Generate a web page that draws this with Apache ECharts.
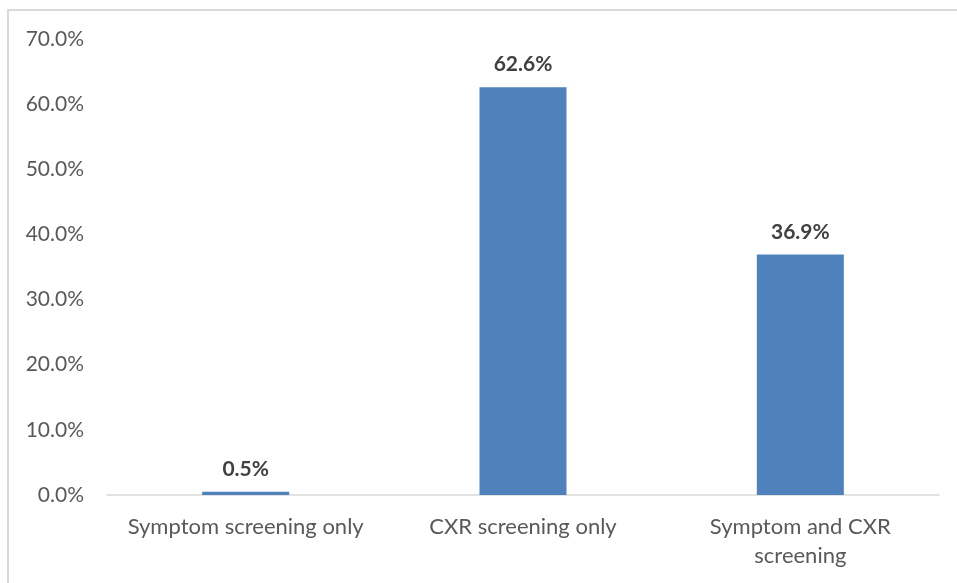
<!DOCTYPE html>
<html>
<head>
<meta charset="utf-8">
<script src="https://cdn.jsdelivr.net/npm/echarts@6/dist/echarts.min.js"></script>
<style>
  html, body { margin: 0; padding: 0; background: #fff; }
  #chart { width: 957px; height: 583px; }
</style>
</head>
<body>
<div id="chart"></div>
<script>
// Screening method shares
const categories = ['Symptom screening only', 'CXR screening only', 'Symptom and CXR\nscreening'];
const shares = [0.5, 62.6, 36.9];
const yTicks = { min: 0, max: 70, interval: 10 };

const FONT = 'Lato';
const chart = echarts.init(document.getElementById('chart'));
chart.setOption({
  animation: false,
  graphic: [{
    type: 'rect',
    shape: { x: 8, y: 10, width: 970, height: 600 },
    style: { fill: 'none', stroke: '#d9d9d9', lineWidth: 2 },
    silent: true
  }],
  grid: { left: 107, right: 18, top: 39, bottom: 88 },
  xAxis: {
    type: 'category',
    data: categories,
    axisLine: { lineStyle: { color: '#d9d9d9', width: 1.5 } },
    axisTick: { show: false },
    axisLabel: {
      interval: 0, hideOverlap: false,
      color: '#595959', fontFamily: FONT, fontSize: 22, margin: 17, lineHeight: 29
    }
  },
  yAxis: {
    type: 'value',
    min: yTicks.min, max: yTicks.max, interval: yTicks.interval,
    splitLine: { show: false },
    axisLine: { show: false },
    axisTick: { show: false },
    axisLabel: {
      color: '#595959', fontFamily: FONT, fontSize: 21, margin: 23,
      formatter: v => v.toFixed(1) + '%'
    }
  },
  series: [{
    type: 'bar',
    data: shares,
    barWidth: 87,
    itemStyle: { color: '#4f81bd' },
    label: {
      show: true, position: 'top', distance: 12,
      color: '#404040', fontFamily: FONT, fontSize: 21, fontWeight: 'bold',
      formatter: p => p.value.toFixed(1) + '%'
    }
  }]
});
</script>
</body>
</html>
